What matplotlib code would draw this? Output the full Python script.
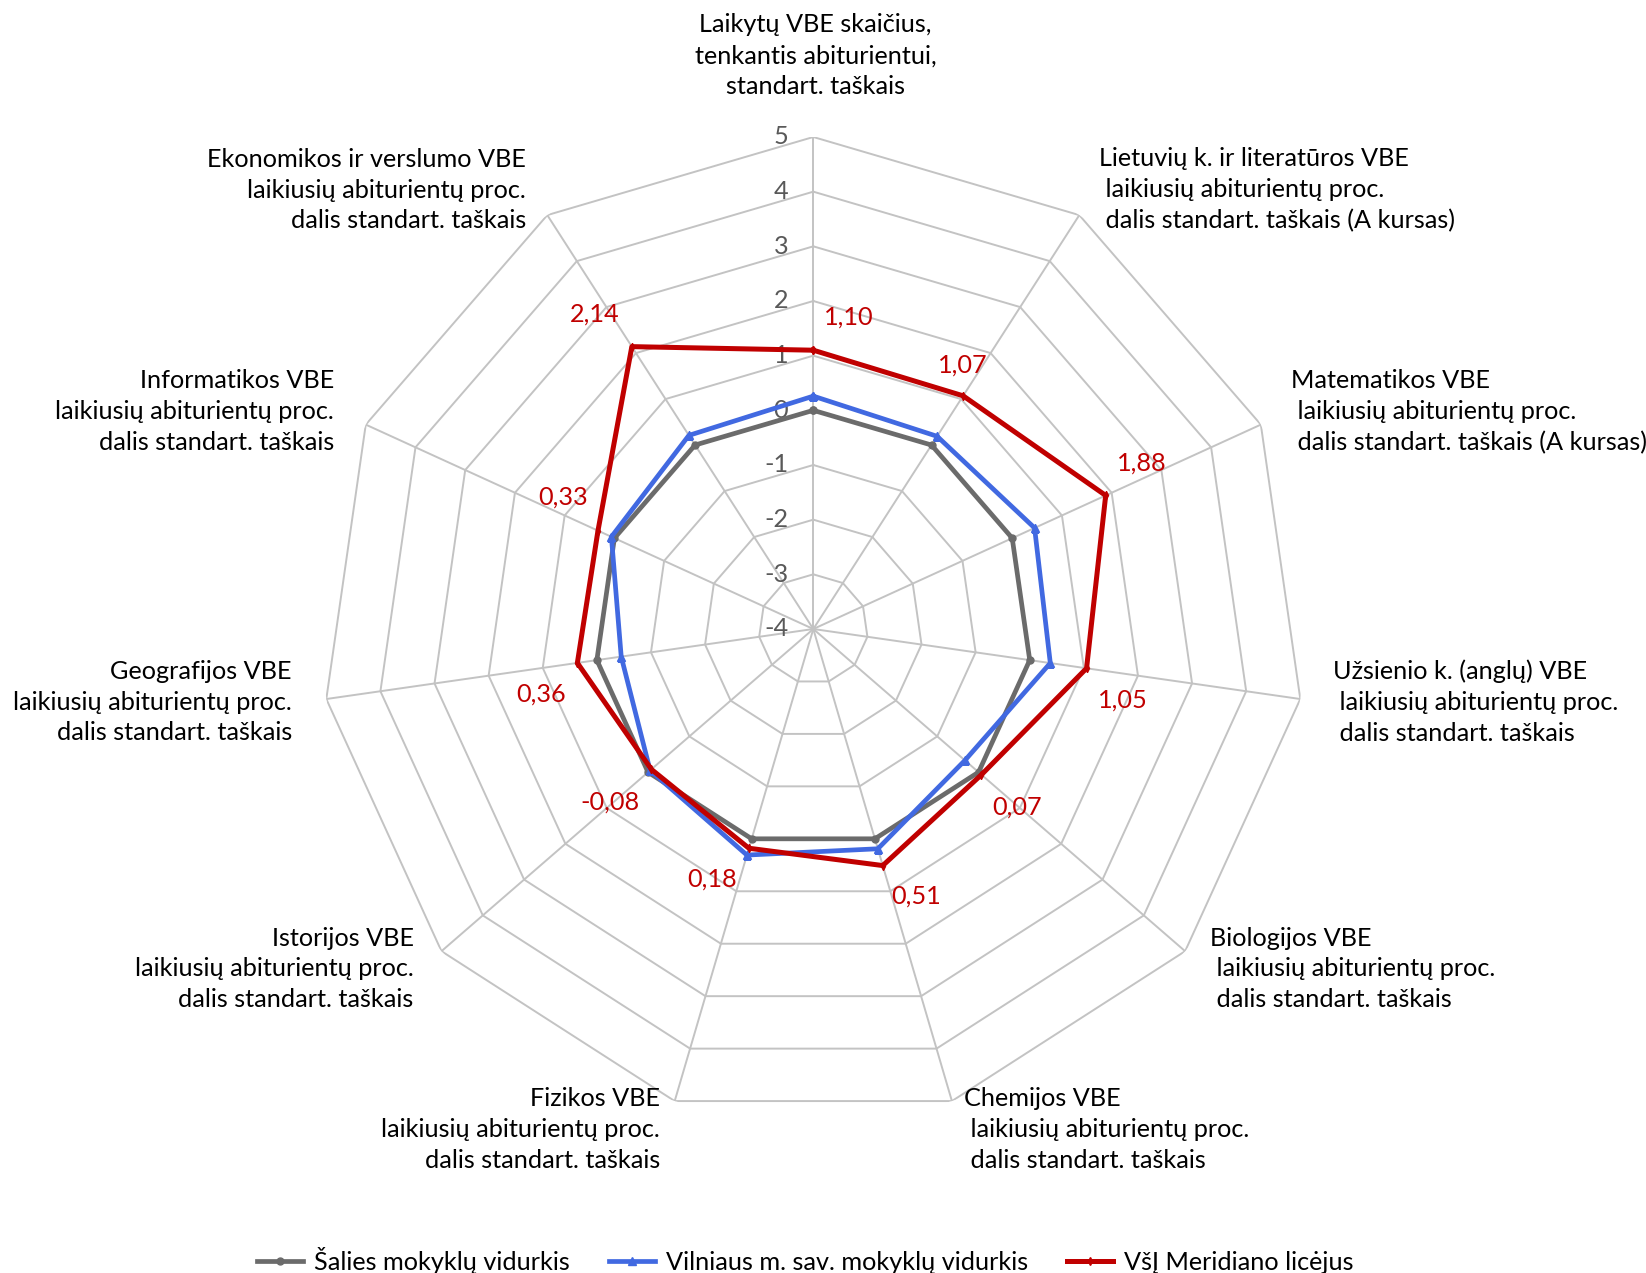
import numpy as np
import matplotlib
matplotlib.use("Agg")
import matplotlib.pyplot as plt

# ---------------- data ----------------
categories = [
    "Laikytų VBE skaičius,\ntenkantis abiturientui,\nstandart. taškais",
    "Lietuvių k. ir literatūros VBE\n laikiusių abiturientų proc.\n dalis standart. taškais (A kursas)",
    "Matematikos VBE\n laikiusių abiturientų proc.\n dalis standart. taškais (A kursas)",
    "Užsienio k. (anglų) VBE\n laikiusių abiturientų proc.\n dalis standart. taškais",
    "Biologijos VBE\n laikiusių abiturientų proc.\n dalis standart. taškais",
    "Chemijos VBE\n laikiusių abiturientų proc.\n dalis standart. taškais",
    "Fizikos VBE\nlaikiusių abiturientų proc.\ndalis standart. taškais",
    "Istorijos VBE\nlaikiusių abiturientų proc.\ndalis standart. taškais",
    "Geografijos VBE\nlaikiusių abiturientų proc.\ndalis standart. taškais",
    "Informatikos VBE\nlaikiusių abiturientų proc.\ndalis standart. taškais",
    "Ekonomikos ir verslumo VBE\nlaikiusių abiturientų proc.\ndalis standart. taškais",
]
series_names = ["Šalies mokyklų vidurkis",
                "Vilniaus m. sav. mokyklų vidurkis",
                "VšĮ Meridiano licėjus"]
salies = [0, 0, 0, 0, 0, 0, 0, 0, 0, 0, 0]
vilnius = [0.26, 0.19, 0.45, 0.38, -0.33, 0.19, 0.31, -0.05, -0.45, 0.06, 0.21]
meridianas = [1.10, 1.07, 1.88, 1.05, 0.07, 0.51, 0.18, -0.08, 0.36, 0.33, 2.14]
r_ticks = [-4, -3, -2, -1, 0, 1, 2, 3, 4, 5]

# ---------------- layout / style ----------------
plt.rcParams["font.family"] = ["Lato", "DejaVu Sans"]
W, H = 1646, 1273
FS = 18.2
fig = plt.figure(figsize=(W / 100, H / 100), dpi=100)
cx, cy, R = 813.3, 629.0, 492.0
ax = fig.add_axes([(cx - R) / W, (H - cy - R) / H, 2 * R / W, 2 * R / H],
                  projection="polar")
ax.set_theta_zero_location("N")
ax.set_theta_direction(-1)
ax.set_ylim(r_ticks[0], r_ticks[-1])
ax.axis("off")

n = len(categories)
angles = np.linspace(0, 2 * np.pi, n, endpoint=False)
closed = np.append(angles, angles[0])

grid_c = "#C3C3C3"
for v in r_ticks[1:]:
    ax.plot(closed, [v] * (n + 1), color=grid_c, lw=1.4, zorder=1)
for a in angles:
    ax.plot([a, a], [r_ticks[0], r_ticks[-1]], color=grid_c, lw=1.4, zorder=1)

for v in r_ticks:
    ax.annotate(str(v), xy=(0, v), xytext=(-25, 0), textcoords="offset pixels",
                ha="right", va="center", color="#595959", fontsize=FS, zorder=2)

def close(vals):
    return list(vals) + [vals[0]]

ax.plot(closed, close(salies), color="#6B6B6B", lw=3.4, marker="o", ms=5,
        label=series_names[0], zorder=3)
ax.plot(closed, close(vilnius), color="#4169E1", lw=3.4, marker="^", ms=6,
        label=series_names[1], zorder=4)
ax.plot(closed, close(meridianas), color="#C00000", lw=3.6, marker="d", ms=4,
        label=series_names[2], zorder=5)

label_offsets = [(35, 33), (0, 31), (36, 32), (36, -32), (36, -32), (33, -31),
                 (-37, -31), (-41, -33), (-36, -31), (-35, 34), (-37, 33)]
for a, v, off in zip(angles, meridianas, label_offsets):
    ax.annotate(f"{v:.2f}".replace(".", ","), xy=(a, v), xytext=off,
                textcoords="offset pixels", ha="center", va="center",
                color="#C00000", fontsize=FS, zorder=6)

# category label anchors (figure pixels, from top-left) and alignment
cat_layout = [(815.6, 55.6, "center"), (1099, 190, "left"), (1291, 411.5, "left"),
              (1333, 702, "left"), (1210, 969, "left"), (963.6, 1129.5, "left"),
              (660, 1129.5, "right"), (413.6, 969, "right"), (291.8, 702, "right"),
              (333.8, 411.5, "right"), (526, 190, "right")]
for txt, (x, y, ha) in zip(categories, cat_layout):
    fig.text(x / W, 1 - y / H, txt, ha=ha, va="center", multialignment=ha,
             fontsize=FS, color="#000000", linespacing=1.42)

fig.legend(loc="center", bbox_to_anchor=(805.6 / W, 1 - 1260 / H), ncol=3,
           frameon=False, fontsize=FS, handlelength=1.8, handletextpad=0.45,
           columnspacing=1.55)

fig.savefig("out.png", dpi=100, facecolor="white")
